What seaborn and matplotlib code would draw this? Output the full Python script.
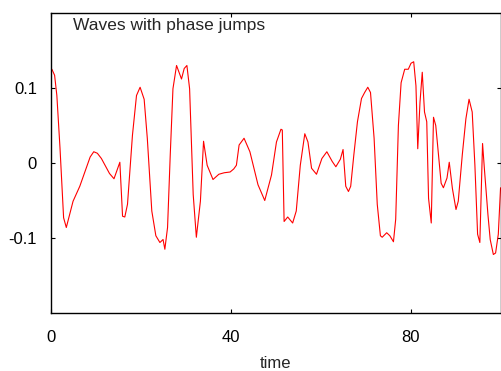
import matplotlib
matplotlib.use("Agg")
import matplotlib.pyplot as plt
import seaborn as sns
import pandas as pd

time = [0.2, 0.8, 1.3, 2.0, 2.8, 3.4, 4.9, 6.4, 7.8, 8.7, 9.5, 10.3, 11.2, 12.2, 13.0, 14.0,
        15.3, 15.9, 16.4, 17.0, 18.1, 19.0, 19.8, 20.7, 21.4, 22.4, 23.3, 24.2, 24.9, 25.3,
        25.9, 26.5, 27.1, 27.9, 29.0, 29.6, 30.2, 30.8, 31.6, 32.3, 33.2, 33.9, 34.7, 36.0,
        37.3, 38.5, 39.8, 40.6, 41.2, 41.8, 42.9, 44.2, 46.0, 47.5, 49.0, 50.1, 51.1, 51.4,
        51.8, 52.6, 53.7, 54.5, 55.4, 56.4, 57.1, 57.9, 59.0, 60.2, 61.3, 62.5, 63.3, 64.3,
        64.9, 65.5, 66.1, 66.6, 67.3, 68.1, 69.0, 69.7, 70.4, 71.0, 71.8, 72.5, 73.2, 73.6,
        74.6, 75.3, 76.1, 76.6, 77.2, 77.8, 78.6, 79.4, 80.0, 80.6, 81.1, 81.5, 82.0, 82.5,
        83.0, 83.5, 83.9, 84.5, 85.0, 85.5, 86.1, 86.7, 87.2, 88.0, 88.5, 89.2, 90.0, 90.5,
        91.4, 92.2, 92.9, 93.6, 94.2, 94.8, 95.3, 95.9, 96.3, 97.1, 97.6, 98.3, 98.8, 99.4,
        99.9]
wave = [0.125, 0.117, 0.090, 0.020, -0.073, -0.086, -0.051, -0.031, -0.007, 0.008, 0.015, 0.013,
        0.006, -0.005, -0.014, -0.021, 0.001, -0.071, -0.072, -0.055, 0.037, 0.090, 0.101,
        0.085, 0.033, -0.064, -0.097, -0.106, -0.102, -0.115, -0.086, 0.011, 0.099, 0.130,
        0.112, 0.126, 0.130, 0.099, -0.042, -0.099, -0.051, 0.029, -0.003, -0.022, -0.015,
        -0.013, -0.012, -0.008, -0.003, 0.024, 0.033, 0.015, -0.029, -0.050, -0.016, 0.028,
        0.045, 0.044, -0.078, -0.072, -0.080, -0.064, -0.003, 0.039, 0.028, -0.007, -0.015,
        0.006, 0.015, 0.002, -0.005, 0.005, 0.018, -0.031, -0.038, -0.031, 0.011, 0.055,
        0.086, 0.094, 0.101, 0.094, 0.033, -0.055, -0.097, -0.099, -0.093, -0.097, -0.105,
        -0.075, 0.050, 0.107, 0.125, 0.125, 0.133, 0.135, 0.103, 0.019, 0.081, 0.121, 0.068,
        0.055, -0.047, -0.080, 0.061, 0.050, 0.011, -0.027, -0.033, -0.020, 0.001, -0.034,
        -0.062, -0.051, 0.011, 0.059, 0.085, 0.068, -0.003, -0.095, -0.106, 0.026, -0.007,
        -0.069, -0.102, -0.122, -0.120, -0.095, -0.033]

xticks = [0, 40, 80]
yticks = [-0.1, 0, 0.1]
yticklabels = ["-0.1", "0", "0.1"]

sns.set_theme(style="ticks")
plt.rcParams["font.family"] = ["Liberation Sans", "DejaVu Sans"]
plt.rcParams["xtick.direction"] = "in"
plt.rcParams["ytick.direction"] = "in"

df = pd.DataFrame({"time": time, "wave": wave})

fig = plt.figure(figsize=(5.02, 3.71), dpi=100)
ax = fig.add_axes([51 / 502, 58 / 371, 450 / 502, 300 / 371])
sns.lineplot(data=df, x="time", y="wave", ax=ax, color="red", linewidth=0.8,
             sort=False, estimator=None)

ax.set_xlim(0, 100)
ax.set_ylim(-0.2, 0.2)
ax.set_xticks(xticks)
ax.set_xticklabels([str(v) for v in xticks])
ax.set_yticks(yticks)
ax.set_yticklabels(yticklabels)
ax.tick_params(axis="both", which="both", top=True, right=True, length=3, width=0.8,
               labelsize=12, colors="black")
ax.tick_params(axis="x", pad=12)
ax.tick_params(axis="y", pad=10)
for s in ax.spines.values():
    s.set_linewidth(1.0)
    s.set_color("black")
ax.set_xlabel("time", fontsize=12, labelpad=8)
ax.set_ylabel("")
ax.text(0.049, 0.957, "Waves with phase jumps", transform=ax.transAxes,
        fontsize=12.5, va="center", ha="left")

fig.savefig("out.png", dpi=100)
